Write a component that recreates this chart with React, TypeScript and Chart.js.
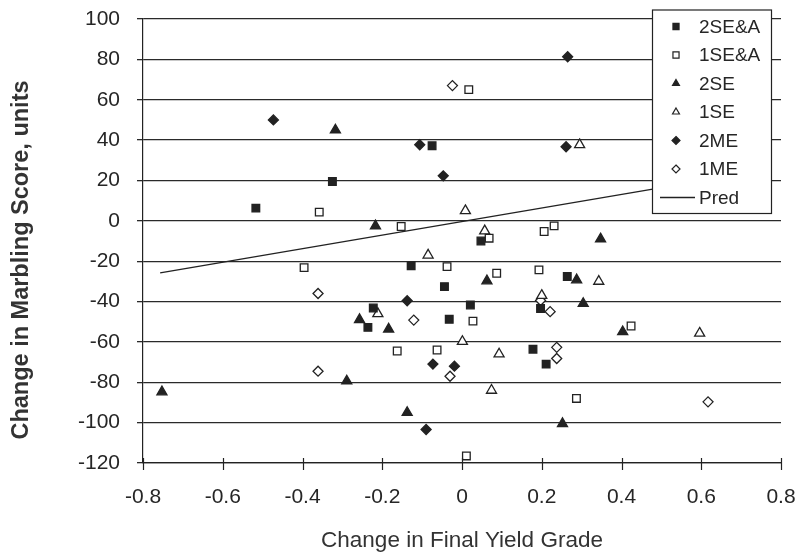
import React, { useEffect, useRef } from 'react';
import { Chart, registerables } from 'chart.js';

Chart.register(...registerables);

const xTickValues = [-0.8, -0.6, -0.4, -0.2, 0, 0.2, 0.4, 0.6, 0.8];
const yTickValues = [-120, -100, -80, -60, -40, -20, 0, 20, 40, 60, 80, 100];

const seriesNames = ['2SE&A', '1SE&A', '2SE', '1SE', '2ME', '1ME', 'Pred'];
const xTitle = 'Change in Final Yield Grade';
const yTitle = 'Change in Marbling Score, units';

const x2SEA = [-0.517, -0.325, -0.075, -0.1275, -0.044, -0.2225, -0.236, -0.032, 0.0475, 0.021, 0.264, 0.197, 0.178, 0.211];
const y2SEA = [6.3, 19.5, 37.2, -22.3, -32.6, -43.2, -52.8, -48.8, -10, -41.7, -27.6, -43.4, -63.6, -71];

const x1SEA = [-0.358, -0.1525, 0.017, 0.206, 0.231, 0.068, -0.396, -0.0375, 0.087, 0.193, 0.0275, 0.424, -0.1625, -0.0625, 0.287, 0.011];
const y1SEA = [4.3, -2.8, 65, -5.3, -2.5, -8.6, -23.2, -22.7, -26, -24.3, -49.7, -52.1, -64.5, -64, -88, -116.5];

const x2SE = [-0.3175, -0.217, 0.3475, 0.0625, 0.2875, 0.304, -0.257, -0.184, 0.403, -0.289, -0.7525, -0.1375, 0.252];
const y2SE = [45, -2.5, -9, -29.8, -29.3, -41, -49, -53.7, -55, -79.4, -84.8, -95, -100.5];

const x1SE = [0.295, 0.0085, 0.057, -0.085, 0.343, -0.211, 0.2, 0.001, 0.596, 0.093, 0.074];
const y1SE = [37.7, 5, -5, -17, -30, -46, -37, -59.8, -55.7, -66, -84];

const x2ME = [0.265, -0.473, -0.106, 0.261, -0.047, -0.1375, -0.073, -0.019, -0.09];
const y2ME = [81.3, 50, 37.7, 36.7, 22.3, -39.6, -71, -72, -103.4];

const x1ME = [-0.024, -0.361, -0.121, 0.197, 0.221, 0.2375, 0.2375, -0.361, -0.03, 0.617];
const y1ME = [67, -36, -49.2, -39.5, -45, -62.7, -68.2, -74.5, -77, -89.7];

const predX = [-0.757, 0.6];
const predY = [-25.8, 19.8];

const zip = (xs: number[], ys: number[]) => xs.map((x, i) => ({ x, y: ys[i] }));

const DARK = '#222222';
const TEXT = '#262626';
const FONT = "'Liberation Sans', Arial, sans-serif";

function drawMarker(ctx: CanvasRenderingContext2D, style: string, filled: boolean, x: number, y: number, r: number) {
  ctx.beginPath();
  if (style === 'rect') {
    const s = r * Math.SQRT1_2;
    ctx.rect(x - s, y - s, 2 * s, 2 * s);
  } else if (style === 'triangle') {
    ctx.moveTo(x, y - r);
    ctx.lineTo(x + r * Math.sin(Math.PI * 2 / 3), y + r * 0.5);
    ctx.lineTo(x - r * Math.sin(Math.PI * 2 / 3), y + r * 0.5);
    ctx.closePath();
  } else {
    ctx.moveTo(x, y - r);
    ctx.lineTo(x + r, y);
    ctx.lineTo(x, y + r);
    ctx.lineTo(x - r, y);
    ctx.closePath();
  }
  ctx.fillStyle = filled ? DARK : '#ffffff';
  ctx.fill();
  ctx.strokeStyle = DARK;
  ctx.lineWidth = 1.2;
  ctx.stroke();
}

const markerStyles = ['rect', 'rect', 'triangle', 'triangle', 'rectRot', 'rectRot'];
const markerFilled = [true, false, true, false, true, false];

const customPlugin = {
  id: 'customDecor',
  afterDatasetsDraw(chart: any) {
    const ctx: CanvasRenderingContext2D = chart.ctx;
    const xs = chart.scales.x;
    const ys = chart.scales.y;
    const axisY = ys.getPixelForValue(yTickValues[0]);
    ctx.save();
    ctx.strokeStyle = DARK;
    ctx.lineWidth = 1.2;
    xTickValues.forEach((v) => {
      const px = Math.round(xs.getPixelForValue(v)) + 0.5;
      ctx.beginPath();
      ctx.moveTo(px, axisY - 5);
      ctx.lineTo(px, axisY + 7);
      ctx.stroke();
    });

    // y-axis title
    ctx.save();
    ctx.translate(22, 260);
    ctx.rotate(-Math.PI / 2);
    ctx.font = `bold 23.5px ${FONT}`;
    ctx.fillStyle = '#333333';
    ctx.textAlign = 'center';
    ctx.textBaseline = 'middle';
    ctx.fillText(yTitle, 0, 0);
    ctx.restore();

    // legend box
    const lx = 652, ly = 9.5, lw = 119, lh = 203.5;
    ctx.fillStyle = '#ffffff';
    ctx.fillRect(lx, ly, lw, lh);
    ctx.strokeStyle = DARK;
    ctx.lineWidth = 1.2;
    ctx.strokeRect(lx + 0.5, ly + 0.5, lw, lh);
    ctx.font = `19px ${FONT}`;
    ctx.textBaseline = 'middle';
    ctx.textAlign = 'left';
    seriesNames.forEach((name, i) => {
      const cy = 26.5 + i * 28.5;
      if (i < 6) {
        drawMarker(ctx, markerStyles[i], markerFilled[i], 676, cy, markerStyles[i] === 'rect' ? 4.3 : 4);
      } else {
        ctx.beginPath();
        ctx.strokeStyle = DARK;
        ctx.lineWidth = 1.3;
        ctx.moveTo(660, cy);
        ctx.lineTo(695, cy);
        ctx.stroke();
      }
      ctx.fillStyle = TEXT;
      ctx.fillText(name, 699, cy + 1);
    });
    ctx.restore();
  },
};

export default function App() {
  const canvasRef = useRef<HTMLCanvasElement | null>(null);

  useEffect(() => {
    const canvas = canvasRef.current;
    if (!canvas) return;

    const pointDs = (label: string, xs: number[], ys: number[], style: string, filled: boolean, r: number) => ({
      label,
      data: zip(xs, ys),
      pointStyle: style,
      pointRadius: r,
      pointBackgroundColor: filled ? DARK : '#ffffff',
      pointBorderColor: DARK,
      pointBorderWidth: 1.3,
      showLine: false,
    });

    const chart = new Chart(canvas, {
      type: 'scatter',
      data: {
        datasets: [
          pointDs(seriesNames[0], x2SEA, y2SEA, 'rect', true, 5.4),
          pointDs(seriesNames[1], x1SEA, y1SEA, 'rect', false, 5.4),
          pointDs(seriesNames[2], x2SE, y2SE, 'triangle', true, 5.8),
          pointDs(seriesNames[3], x1SE, y1SE, 'triangle', false, 5.8),
          pointDs(seriesNames[4], x2ME, y2ME, 'rectRot', true, 5),
          pointDs(seriesNames[5], x1ME, y1ME, 'rectRot', false, 5),
          {
            type: 'line',
            label: seriesNames[6],
            data: zip(predX, predY),
            showLine: true,
            borderColor: DARK,
            borderWidth: 1.4,
            pointRadius: 0,
            fill: false,
          } as any,
        ],
      },
      options: {
        responsive: false,
        animation: false,
        events: [],
        layout: { padding: { top: 19, right: 15, left: 0, bottom: 0 } },
        plugins: {
          legend: { display: false },
          tooltip: { enabled: false },
        },
        scales: {
          x: {
            type: 'linear',
            min: -0.8,
            max: 0.8,
            afterBuildTicks: (scale: any) => {
              scale.ticks = xTickValues.map((v) => ({ value: v }));
            },
            afterFit: (scale: any) => {
              scale.height = 94;
              scale.paddingLeft = 0;
              scale.paddingRight = 0;
            },
            ticks: {
              color: TEXT,
              font: { family: FONT, size: 21 },
              padding: 22,
              maxRotation: 0,
              autoSkip: false,
              callback: (v: any) => String(Math.round(Number(v) * 10) / 10),
            },
            grid: { display: false, drawTicks: false },
            border: { display: true, color: DARK, width: 1.2 },
            title: {
              display: true,
              text: xTitle,
              color: '#333333',
              font: { family: FONT, size: 22.5 },
              padding: { top: 0, bottom: 3 },
            },
          },
          y: {
            type: 'linear',
            min: -120,
            max: 100,
            afterBuildTicks: (scale: any) => {
              scale.ticks = yTickValues.map((v) => ({ value: v }));
            },
            afterFit: (scale: any) => {
              scale.width = 143;
              scale.paddingTop = 0;
              scale.paddingBottom = 0;
            },
            ticks: {
              color: TEXT,
              font: { family: FONT, size: 21 },
              padding: 17,
              autoSkip: false,
            },
            grid: { color: '#2a2a2a', lineWidth: 1.3, tickLength: 6, drawTicks: true },
            border: { display: true, color: DARK, width: 1.2 },
            title: { display: false },
          },
        },
      },
      plugins: [customPlugin],
    });

    return () => chart.destroy();
  }, []);

  return (
    <div style={{ position: 'absolute', left: 0, top: 0, width: 796, height: 557, background: '#ffffff' }}>
      <canvas ref={canvasRef} width={796} height={557} style={{ display: 'block' }} />
    </div>
  );
}
